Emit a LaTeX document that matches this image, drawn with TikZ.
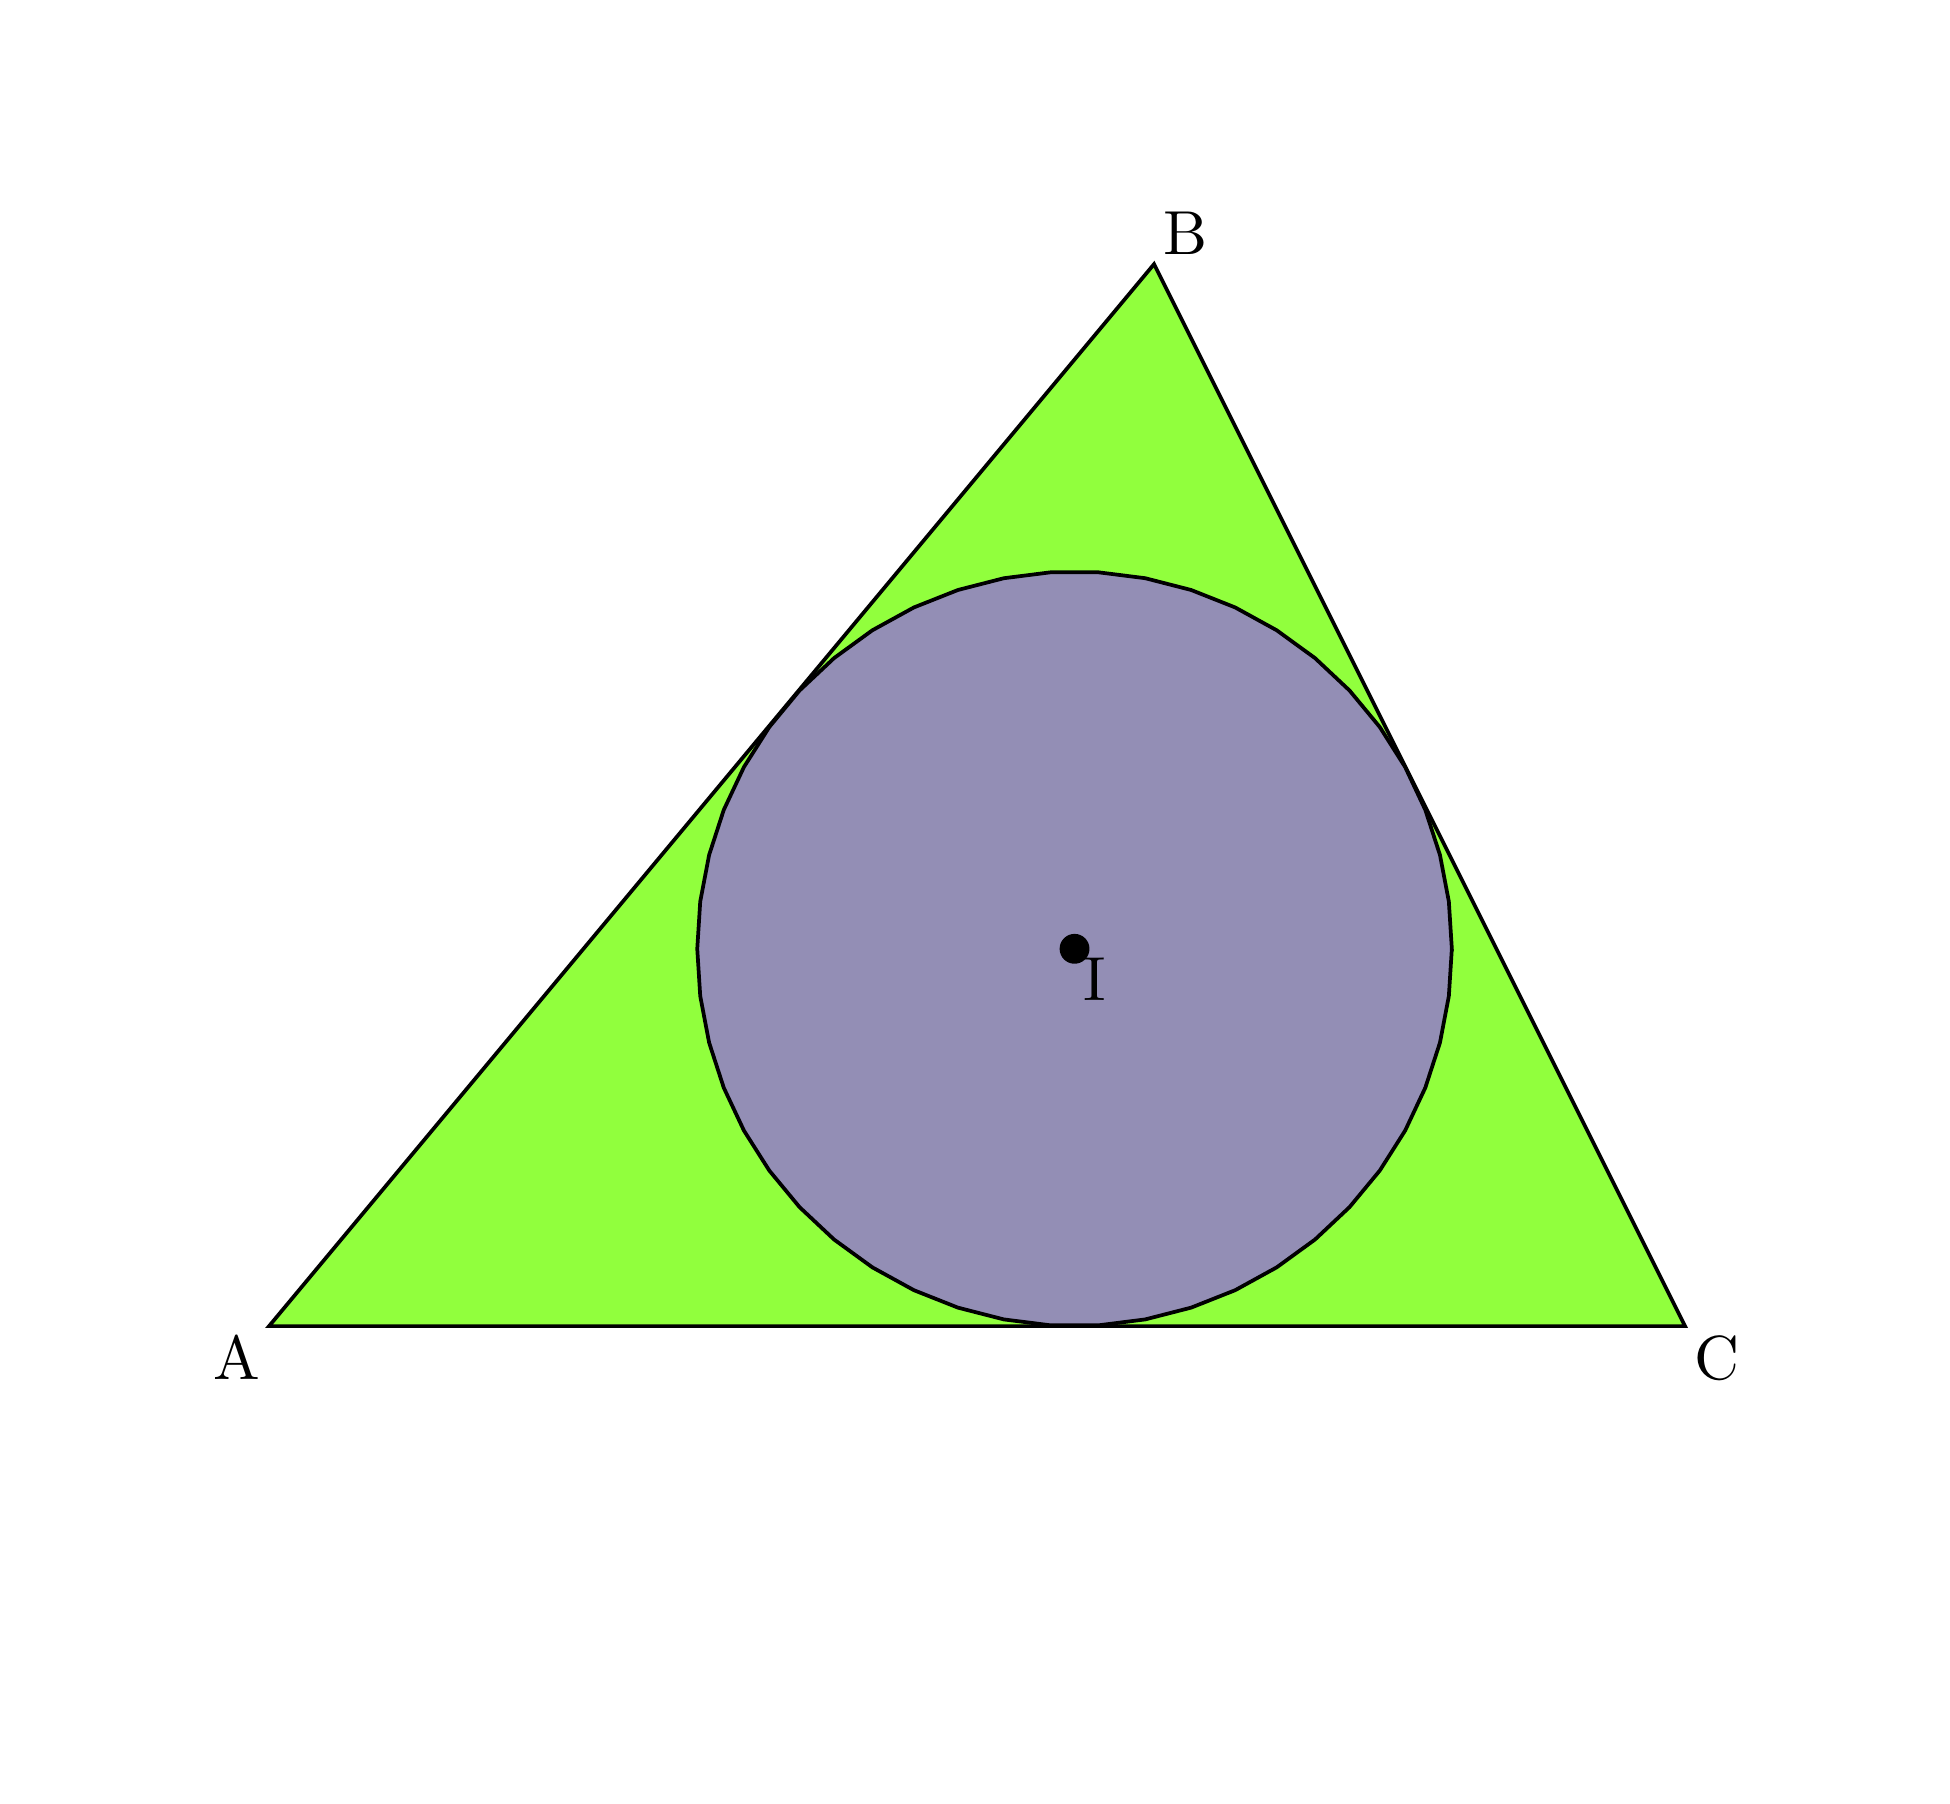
\documentclass[tikz,border=0pt]{standalone}
\usepackage{xcolor}
\usepackage{tikz}
\usetikzlibrary{positioning}
\definecolor{trigreen}{RGB}{145,255,61}
\definecolor{incirc}{RGB}{147,142,181}
\tikzset{
    ptlabel/.style={inner sep=1.3pt},
    edge/.style={draw=black, line width=0.6pt}
}

\begin{document}
\begin{tikzpicture}
\useasboundingbox (-1.520,-2.695) rectangle (9.497,7.492);
\coordinate (A) at (0,0);
\coordinate (B) at (5,6);
\coordinate (C) at (8,0);
\coordinate (I) at (4.5508,2.1316);

% triangle
\filldraw[edge, fill=trigreen] (A) -- (B) -- (C) -- cycle;

% incircle
\filldraw[edge, fill=incirc, shift={(I)}]
    plot[samples=51, domain=0:360] (\x:2.1316) -- cycle;

\fill (I) circle (2.4pt);

\node[ptlabel, below left=0pt of A] (lA) {A};
\node[ptlabel, above right=0pt of B] (lB) {B};
\node[ptlabel, below right=0pt of C] (lC) {C};
\node[ptlabel, below right=0pt of I] (lI) {I};
\end{tikzpicture}
\end{document}
